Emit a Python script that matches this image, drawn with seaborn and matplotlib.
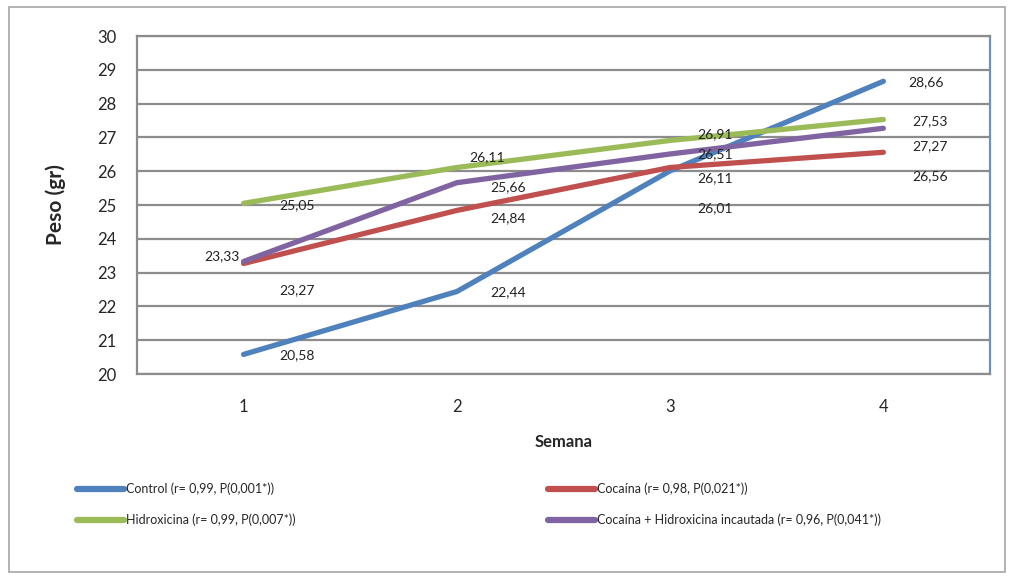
import pandas as pd
import matplotlib.pyplot as plt
import seaborn as sns
from matplotlib.patches import Rectangle

sns.set_style("white")
plt.rcParams["font.family"] = ["Lato", "DejaVu Sans"]

# ---- data ----
weeks = [1, 2, 3, 4]
control = [20.58, 22.44, 26.01, 28.66]
cocaina = [23.27, 24.84, 26.11, 26.56]
hidroxicina = [25.05, 26.11, 26.91, 27.53]
coca_hidro = [23.33, 25.66, 26.51, 27.27]

series_names = [
    "Control (r= 0,99, P(0,001*))",
    "Cocaína (r= 0,98, P(0,021*))",
    "Hidroxicina (r= 0,99, P(0,007*))",
    "Cocaína + Hidroxicina incautada (r= 0,96, P(0,041*))",
]
colors = ["#4F81BD", "#C0504D", "#9BBB59", "#8064A2"]

df = pd.DataFrame({
    "Semana": weeks * 4,
    "Peso": control + cocaina + hidroxicina + coca_hidro,
    "grupo": [n for n in series_names for _ in weeks],
})

# data label offsets (dx, dy in data units), per week then per series,
# placed roughly where the original chart puts them
label_pos = [
    [(0.25, -0.02), (0.25, -0.78), (0.25, -0.05), (-0.10, 0.17)],
    [(0.24, -0.01), (0.24, -0.24), (0.14, 0.31), (0.24, -0.13)],
    [(0.21, -1.11), (0.21, -0.31), (0.21, 0.19), (0.21, -0.01)],
    [(0.20, -0.02), (0.22, -0.70), (0.22, -0.04), (0.22, -0.52)],
]

fig = plt.figure(figsize=(10.1, 5.77), dpi=100)
ax = fig.add_axes([0.1356, 0.3518, 0.8446, 0.5858])

sns.lineplot(data=df, x="Semana", y="Peso", hue="grupo", palette=colors,
             linewidth=3.8, ax=ax, legend=False, zorder=3)

all_vals = [control, cocaina, hidroxicina, coca_hidro]
for si, vals in enumerate(all_vals):
    for wi, v in enumerate(vals):
        dx, dy = label_pos[wi][si]
        ax.text(weeks[wi] + dx, v + dy, f"{v:.2f}".replace(".", ","),
                ha="center", va="center", fontsize=10, color="#222222", zorder=4)

ax.set_xlim(0.5, 4.5)
ax.set_ylim(20, 30)
ax.set_yticks(range(20, 31))
ax.set_xticks(weeks)
ax.set_xticks([1.5, 2.5, 3.5], minor=True)
ax.grid(axis="y", color="#8c8c8c", linewidth=1.6, zorder=1)
ax.tick_params(axis="y", which="major", direction="out", length=7, width=1.5,
               color="#8c8c8c", labelsize=12, pad=8)
ax.tick_params(axis="x", which="major", length=0, labelsize=12, pad=18)
ax.tick_params(axis="x", which="minor", direction="out", length=7, width=1.5,
               color="#8c8c8c")
for side in ["left", "bottom", "top"]:
    ax.spines[side].set_color("#8c8c8c")
    ax.spines[side].set_linewidth(1.6)
ax.spines["right"].set_color("#6f93b8")
ax.spines["right"].set_linewidth(1.6)

ax.set_xlabel("Semana", fontsize=12, fontweight="bold", labelpad=14)
ax.set_ylabel("Peso (gr)", fontsize=15, fontweight="bold", labelpad=22)

handles = [plt.Line2D([], [], color=c, linewidth=4.5) for c in colors]
order = [0, 2, 1, 3]
leg = fig.legend([handles[i] for i in order], [series_names[i] for i in order],
                 ncol=2, loc="upper left", bbox_to_anchor=(0.065, 0.183),
                 frameon=False, fontsize=9, handlelength=3.8, handletextpad=0.1,
                 columnspacing=20.2, labelspacing=1.45)

fig.add_artist(Rectangle((0.009, 0.008), 0.986, 0.98, transform=fig.transFigure,
                         fill=False, edgecolor="#a6a6a6", linewidth=1.2))

fig.savefig("out.png", dpi=100, facecolor="white")
